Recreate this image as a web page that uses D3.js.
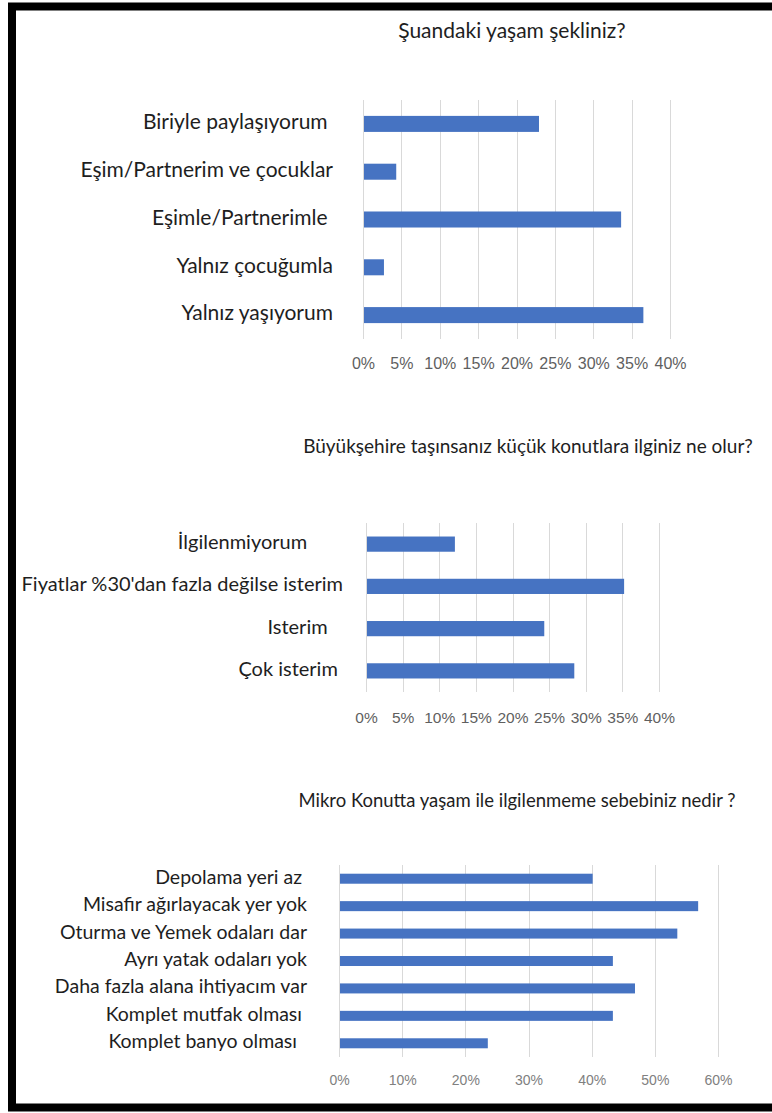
<!DOCTYPE html>
<html>
<head>
<meta charset="utf-8">
<script src="https://cdn.jsdelivr.net/npm/d3@7"></script>
<style>
  body { margin: 0; background: #fff; }
  svg { display: block; }
  .cat-label { font-family: Lato, "Open Sans", sans-serif; fill: #1e1e1e; white-space: pre; }
  .title { font-family: Lato, "Open Sans", sans-serif; fill: #1e1e1e; }
  .tick-label { font-family: "Liberation Sans", Arial, sans-serif; }
</style>
</head>
<body>
<svg id="chart" width="772" height="1113"></svg>
<script>
// Chart 1 - Şuandaki yaşam şekliniz?
const q1Categories = ["Biriyle paylaşıyorum ", "Eşim/Partnerim ve çocuklar", "Eşimle/Partnerimle ", "Yalnız çocuğumla", "Yalnız yaşıyorum"];
const q1Values = [22.8, 4.2, 33.5, 2.6, 36.4];
const q1Ticks = [0, 5, 10, 15, 20, 25, 30, 35, 40];

// Chart 2 - Büyükşehire taşınsanız ... (labels keep the trailing spaces of the source)
const q2Categories = ["İlgilenmiyorum       ", "Fiyatlar %30'dan fazla değilse isterim", "Isterim   ", "Çok isterim "];
const q2Values = [12.0, 35.1, 24.2, 28.3];
const q2Ticks = [0, 5, 10, 15, 20, 25, 30, 35, 40];

// Chart 3 - Mikro Konutta yaşam ...
const q3Categories = ["Depolama yeri az ", "Misafir ağırlayacak yer yok", "Oturma ve Yemek odaları dar", "Ayrı yatak odaları yok", "Daha fazla alana ihtiyacım var", "Komplet mutfak olması ", "Komplet banyo olması  "];
const q3Values = [40.0, 56.7, 53.4, 43.2, 46.7, 43.2, 23.4];
const q3Ticks = [0, 10, 20, 30, 40, 50, 60];

const svg = d3.select("#chart");

svg.append("rect")
  .attr("width", 772).attr("height", 1113)
  .attr("fill", "#fff");

// black frame around the whole picture (right side runs off the page)
svg.append("rect")
  .attr("x", 12).attr("y", 6.5)
  .attr("width", 790).attr("height", 1101)
  .attr("fill", "none")
  .attr("stroke", "#000")
  .attr("stroke-width", 8);

const drawBarChart = (opts) => {
  const g = svg.append("g");

  const x = d3.scaleLinear()
    .domain([0, d3.max(opts.ticks)])
    .range([opts.left, opts.right]);

  // excel style: half a gap above the first and below the last bar
  const y = d3.scaleBand()
    .domain(d3.range(opts.categories.length))
    .range([opts.top, opts.bottom])
    .paddingInner(opts.padding)
    .paddingOuter(opts.padding / 2);

  g.append("text")
    .attr("class", "title")
    .attr("x", opts.titleX)
    .attr("y", opts.titleY)
    .attr("text-anchor", "middle")
    .attr("dominant-baseline", "middle")
    .style("font-size", opts.titleSize + "px")
    .text(opts.title);

  // vertical gridlines
  g.append("g")
    .selectAll("line")
    .data(opts.ticks)
    .join("line")
    .attr("x1", (d) => Math.round(x(d)) + 0.5)
    .attr("x2", (d) => Math.round(x(d)) + 0.5)
    .attr("y1", opts.top)
    .attr("y2", opts.bottom)
    .attr("stroke", "#d9d9d9")
    .attr("stroke-width", 1);

  // x axis labels
  const axis = g.append("g")
    .attr("transform", "translate(0," + opts.tickY + ")")
    .call(d3.axisBottom(x).tickValues(opts.ticks).tickSize(0).tickPadding(0).tickFormat((d) => d + "%"));
  axis.select(".domain").remove();
  axis.selectAll("text")
    .attr("class", "tick-label")
    .attr("fill", opts.tickColor)
    .attr("dy", "0.35em")
    .attr("y", 0)
    .style("font-size", opts.tickSize + "px");

  g.append("g")
    .attr("fill", "#4673c2")
    .selectAll("rect")
    .data(opts.values)
    .join("rect")
    .attr("x", x(0) + 1)
    .attr("y", (d, i) => y(i))
    .attr("width", (d) => x(d) - x(0))
    .attr("height", y.bandwidth());

  g.append("g")
    .selectAll("text")
    .data(opts.categories)
    .join("text")
    .attr("class", "cat-label")
    .attr("x", opts.labelX)
    .attr("y", (d, i) => y(i) + y.bandwidth() / 2)
    .attr("text-anchor", "end")
    .attr("dominant-baseline", "middle")
    .style("font-size", opts.labelSize + "px")
    .text((d) => d);
};

drawBarChart({
  title: "Şuandaki yaşam şekliniz?", titleX: 512, titleY: 33, titleSize: 21,
  categories: q1Categories, values: q1Values, ticks: q1Ticks,
  left: 363, right: 670, top: 100, bottom: 339, padding: 0.665,
  labelX: 333, labelSize: 21, tickY: 363, tickColor: "#5f5f5f", tickSize: 16
});

drawBarChart({
  title: "Büyükşehire taşınsanız küçük konutlara ilginiz ne olur?", titleX: 528, titleY: 448, titleSize: 19,
  categories: q2Categories, values: q2Values, ticks: q2Ticks,
  left: 366, right: 659, top: 523, bottom: 692, padding: 0.64,
  labelX: 343, labelSize: 20, tickY: 718, tickColor: "#5f5f5f", tickSize: 15.5
});

drawBarChart({
  title: "Mikro Konutta yaşam ile ilgilenmeme sebebiniz nedir ?", titleX: 517, titleY: 802, titleSize: 18.5,
  categories: q3Categories, values: q3Values, ticks: q3Ticks,
  left: 339, right: 718, top: 865, bottom: 1057, padding: 0.635,
  labelX: 307, labelSize: 19.5, tickY: 1080, tickColor: "#808080", tickSize: 14
});
</script>
</body>
</html>
